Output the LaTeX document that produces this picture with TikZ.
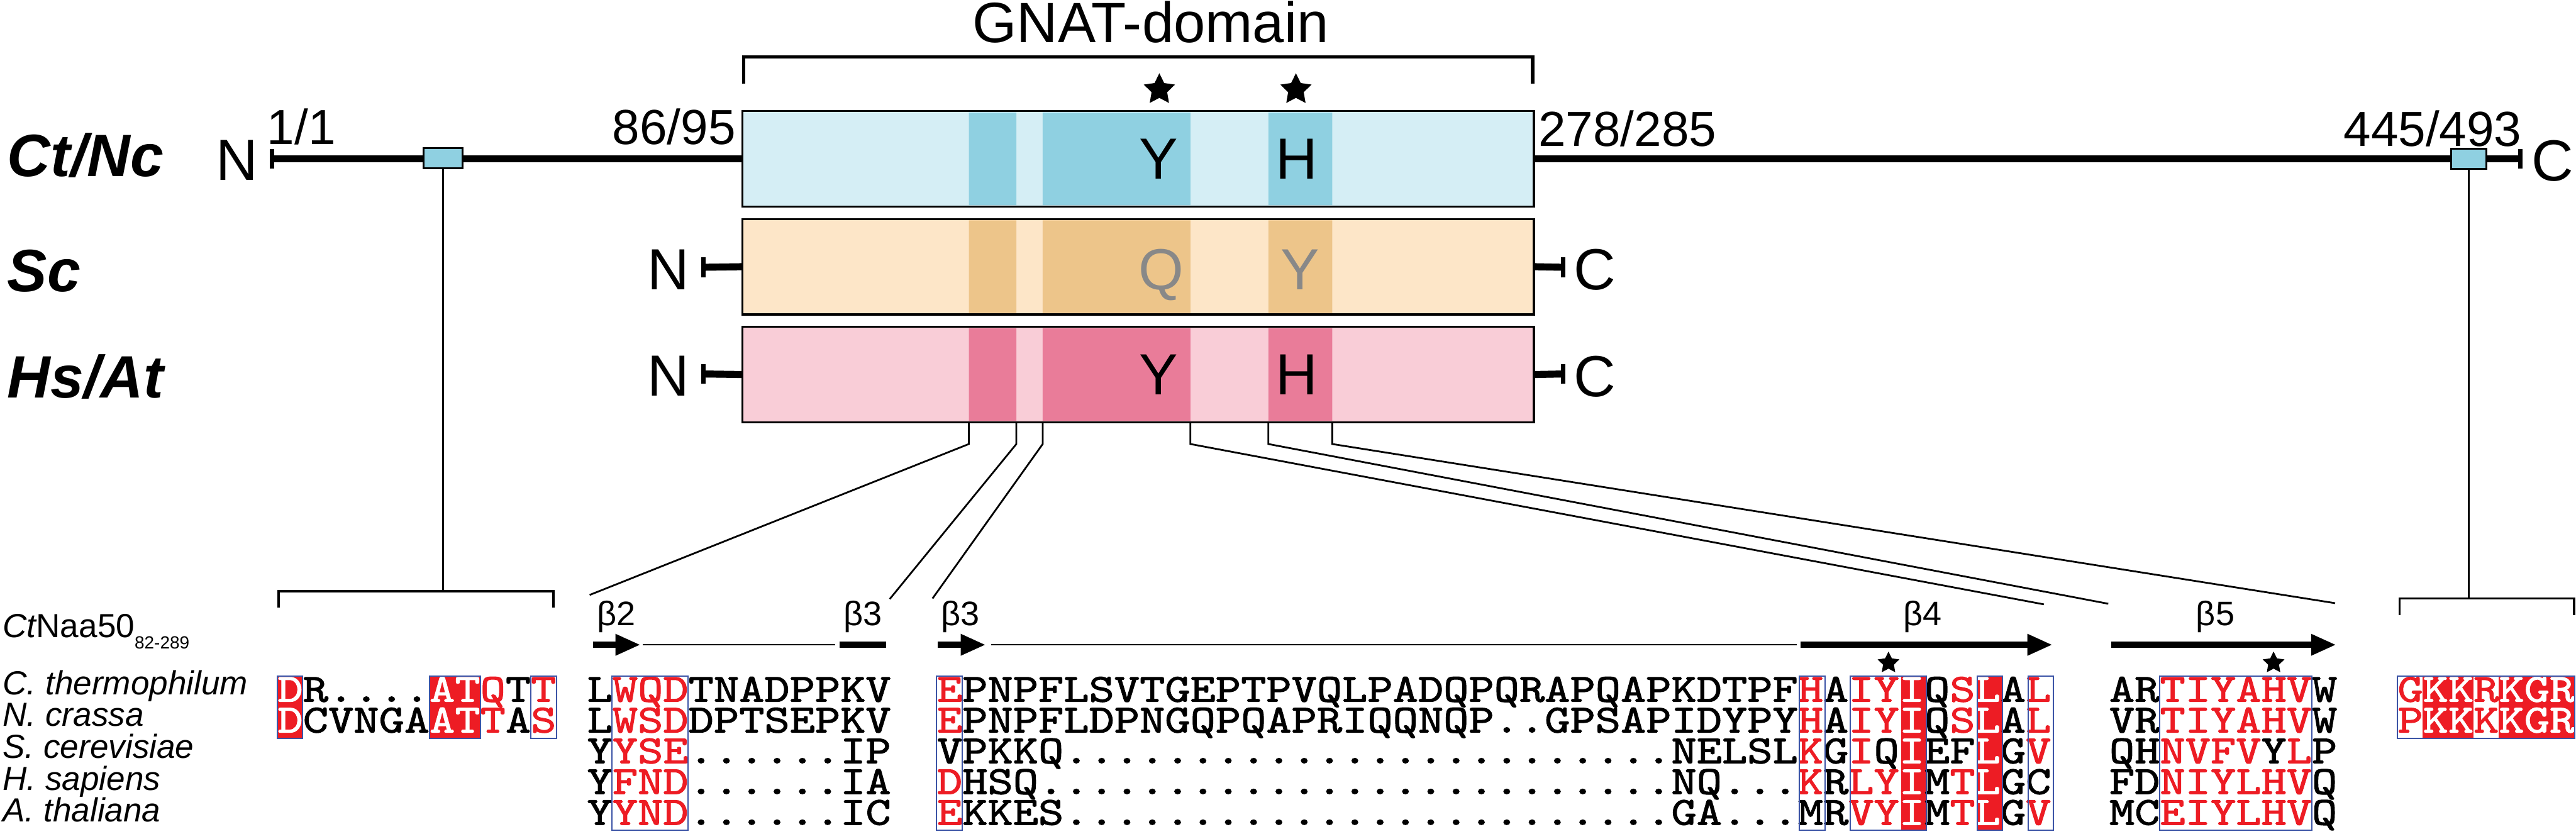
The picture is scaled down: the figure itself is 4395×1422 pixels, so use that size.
\documentclass[tikz,border=0pt]{standalone}
\usepackage{fontspec}
\setmainfont{Liberation Sans}
\newfontfamily\seqfont[FakeStretch=1.21, FakeBold=1.8]{lmmono10-regular.otf}
\usetikzlibrary{shapes.geometric, arrows.meta}

\definecolor{ctlight}{RGB}{213,238,245}
\definecolor{ctdark}{RGB}{143,208,225}
\definecolor{sclight}{RGB}{253,230,200}
\definecolor{scdark}{RGB}{237,197,138}
\definecolor{hslight}{RGB}{249,205,215}
\definecolor{hsdark}{RGB}{233,124,153}
\definecolor{espred}{RGB}{237,28,36}
\definecolor{espblue}{RGB}{60,84,166}
\definecolor{resgray}{RGB}{136,136,136}

\newcommand{\rd}[1]{\textcolor{espred}{#1}}
\newcommand{\rw}[1]{\textcolor{white}{#1}}
\newcommand{\cw}{43.3}

\tikzset{
    domainbox/.style={draw, line width=0.85pt, minimum width=337.5pt, minimum height=40.75pt, inner sep=0},
    smallbox/.style={draw, fill=ctdark, line width=0.7pt, minimum height=8.5pt, inner sep=0},
    termlabel/.style={font=\fontsize{24.75}{26}\selectfont, inner sep=0, anchor=base},
    numlabel/.style={font=\fontsize{21}{22}\selectfont, inner sep=0},
    orglabel/.style={font=\fontsize{25.5}{27}\selectfont\bfseries\itshape, inner sep=0, anchor=base west},
    reslabel/.style={font=\fontsize{24.75}{26}\selectfont, inner sep=0, anchor=base},
    bigstar/.style={star, star points=5, star point ratio=2.0, fill=black, inner sep=0, minimum size=14pt},
    smallstar/.style={star, star points=5, star point ratio=2.0, fill=black, inner sep=0, minimum size=9.75pt},
    species/.style={font=\fontsize{14.25}{15}\selectfont\itshape, inner sep=0, anchor=base west, text height=10.5pt, text depth=1pt},
    seqrow/.style={font=\seqfont\fontsize{17}{17}\selectfont, inner sep=0, anchor=base west, text height=10.5pt, text depth=0pt},
    sslabel/.style={font=\fontsize{14.5}{15}\selectfont, inner sep=0, anchor=base west},
    strand/.style={line width=2.75pt, -{Triangle[width=8.5pt,length=10.75pt]}},
    strandbar/.style={line width=2.75pt},
    coil/.style={line width=0.6pt},
    seqframe/.style={draw=espblue, line width=0.55pt},
    ident/.style={fill=espred},
    zoomline/.style={line width=0.75pt},
    bracketline/.style={line width=1pt},
    thinline/.style={line width=0.65pt},
    tbar/.style={line width=1.75pt},
    stub/.style={line width=3pt}
}

\begin{document}
\begin{tikzpicture}[x=0.25pt, y=-0.25pt]
    \useasboundingbox (0,0) rectangle (4395,1422);

    % GNAT domain header
    \node[font=\fontsize{24.25}{26}\selectfont, inner sep=0, anchor=base] (gnat) at (1963,72) {GNAT-domain};
    \draw[line width=1.5pt] (1269,143) -- (1269,97) -- (2615,97) -- (2615,143);
    \node[bigstar] (ystar) at (1978,153) {};
    \node[bigstar] (hstar) at (2211,153) {};

    % Ct/Nc
    \coordinate (ctN) at (464,271);
    \coordinate (ctC) at (4300,271);
    \node[domainbox, fill=ctlight] (ctbox) at (1942,271) {};
    \fill[ctdark] (1653,192) rectangle (1734,350) (1779,192) rectangle (2031,350) (2164,192) rectangle (2273,350);
    \draw[stub] (ctN) -- (ctbox.west) (ctbox.east) -- (ctC);
    \draw[tbar] (464,254) -- (464,288) (4300,254) -- (4300,288);
    \node[smallbox, minimum width=16.75pt] (nbox) at (756,270) {};
    \node[smallbox, minimum width=15pt] (cbox) at (4212,271) {};
    \node[orglabel] (ctname) at (12,301) {Ct/Nc};
    \node[termlabel] (ctNl) at (404,307) {N};
    \node[termlabel] (ctCl) at (4355,308) {C};
    \node[numlabel, anchor=base west] (n11) at (455,246) {1/1};
    \node[numlabel, anchor=base east] (n86) at (1256,246) {86/95};
    \node[numlabel, anchor=base west] (n278) at (2624,249) {278/285};
    \node[numlabel, anchor=base east] (n445) at (4303,249) {445/493};
    \node[reslabel] (cty) at (1977,305) {Y};
    \node[reslabel] (cth) at (2212,305) {H};

    % Sc
    \node[domainbox, fill=sclight] (scbox) at (1942,455) {};
    \fill[scdark] (1653,376) rectangle (1734,534) (1779,376) rectangle (2031,534) (2164,376) rectangle (2273,534);
    \draw[stub] (1200,456) -- (scbox.west) (scbox.east) -- (2667,456);
    \draw[tbar] (1200,439) -- (1200,473) (2667,439) -- (2667,473);
    \node[orglabel] (scname) at (12,497) {Sc};
    \node[termlabel] (scNl) at (1140,494) {N};
    \node[termlabel] (scCl) at (2721,494) {C};
    \node[reslabel, text=resgray] (scq) at (1981,494) {Q};
    \node[reslabel, text=resgray] (scy) at (2218,494) {Y};

    % Hs/At
    \node[domainbox, fill=hslight] (hsbox) at (1942,639) {};
    \fill[hsdark] (1653,560) rectangle (1734,718) (1779,560) rectangle (2031,718) (2164,560) rectangle (2273,718);
    \draw[stub] (1200,638) -- (hsbox.west) (hsbox.east) -- (2667,638);
    \draw[tbar] (1200,621) -- (1200,655) (2667,621) -- (2667,655);
    \node[orglabel] (hsname) at (12,679) {Hs/At};
    \node[termlabel] (hsNl) at (1140,675) {N};
    \node[termlabel] (hsCl) at (2721,677) {C};
    \node[reslabel] (hsy) at (1977,673) {Y};
    \node[reslabel] (hsh) at (2212,673) {H};

    % zoom lines to the alignment
    \coordinate (nbrk) at (757,1009);
    \coordinate (cbrk) at (4213,1021);
    \draw[thinline] (nbox.south) -- (nbox.south |- nbrk);
    \draw[thinline] (cbox.south) -- (cbox.south |- cbrk);
    \draw[bracketline] (475,1037) -- (475,1009) -- (944,1009) -- (944,1037);
    \draw[bracketline] (4094,1049) -- (4094,1021) -- (4392,1021) -- (4392,1049);
    \coordinate (e1) at (1653,720.5);
    \coordinate (e2) at (1734,720.5);
    \coordinate (e3) at (1779,720.5);
    \coordinate (e4) at (2031,720.5);
    \coordinate (e5) at (2164,720.5);
    \coordinate (e6) at (2273,720.5);
    \coordinate (s1) at (1006,1015);
    \coordinate (s2) at (1518,1022);
    \coordinate (s3) at (1591,1021);
    \coordinate (s4) at (3487,1031);
    \coordinate (s5) at (3597,1030);
    \coordinate (s6) at (3984,1029);
    \foreach \i in {1,...,6}
        \draw[zoomline] (e\i) -- ++(0,37) -- (s\i);

    % secondary structure
    \draw[strand] (1012,1100) -- (1093,1100);
    \draw[coil] (1097,1100) -- (1425,1100);
    \draw[strandbar] (1432,1100) -- (1512,1100);
    \draw[strand] (1600,1100) -- (1682,1100);
    \draw[coil] (1691,1100) -- (3065,1100);
    \draw[strand] (3072,1100) -- (3502,1100);
    \draw[strand] (3602,1100) -- (3986,1100);
    \node[sslabel] (b2) at (1018,1067) {β2};
    \node[sslabel] (b3a) at (1439,1067) {β3};
    \node[sslabel] (b3b) at (1605,1067) {β3};
    \node[sslabel] (b4) at (3247,1067) {β4};
    \node[sslabel] (b5) at (3746,1067) {β5};
    \node[smallstar] (s4star) at (3222,1131) {};
    \node[smallstar] (s5star) at (3879,1131) {};

    % species
    \node[species, font=\fontsize{14.25}{15}\selectfont] (naa) at (4,1088) {{\itshape Ct}Naa50\raisebox{-4.75pt}{\fontsize{7.5}{8}\selectfont 82-289}};
    \node[species] (spct) at (4,1185) {C. thermophilum};
    \node[species] (spnc) at (4,1239) {N. crassa};
    \node[species] (spsc) at (4,1293) {S. cerevisiae};
    \node[species] (sphs) at (4,1348) {H. sapiens};
    \node[species] (spat) at (4,1402) {A. thaliana};

    % identical columns
    \fill[ident] (473,1153) rectangle ({473+\cw},1260) ({473+6*\cw},1153) rectangle ({473+8*\cw},1260);
    \fill[ident] ({1598+38*\cw},1153) rectangle ({1598+39*\cw},1416) ({1598+41*\cw},1153) rectangle ({1598+42*\cw},1416);
    \fill[ident] ({4090+\cw},1153) rectangle ({4090+3*\cw},1260) ({4090+4*\cw},1153) rectangle ({4090+7*\cw},1260);

    % alignment, N-terminal block
    \node[seqrow] (ctA) at (473,1197) {\rw{D}R....\rw{AT}\rd{Q}T\rd{T}};
    \node[seqrow] (ncA) at (473,1249.5) {\rw{D}CVNGA\rw{AT}\rd{T}A\rd{S}};

    % beta2 - beta3
    \node[seqrow] (ctB) at (1001,1197) {L\rd{WQD}TNADPPKV};
    \node[seqrow] (ncB) at (1001,1249.5) {L\rd{WSD}DPTSEPKV};
    \node[seqrow] (scB) at (1001,1302) {Y\rd{YSE}......IP};
    \node[seqrow] (hsB) at (1001,1354.5) {Y\rd{FND}......IA};
    \node[seqrow] (atB) at (1001,1407) {Y\rd{YND}......IC};

    % beta3 - beta4
    \node[seqrow] (ctC) at (1598,1197) {\rd{E}PNPFLSVTGEPTPVQLPADQPQRAPQAPKDTPF\rd{H}A\rd{IY}\rw{I}Q\rd{S}\rw{L}A\rd{L}};
    \node[seqrow] (ncC) at (1598,1249.5) {\rd{E}PNPFLDPNGQPQAPRIQQNQP..GPSAPIDYPY\rd{H}A\rd{IY}\rw{I}Q\rd{S}\rw{L}A\rd{L}};
    \node[seqrow] (scC) at (1598,1302) {VPKKQ........................NELSL\rd{K}G\rd{I}Q\rw{I}EF\rw{L}G\rd{V}};
    \node[seqrow] (hsC) at (1598,1354.5) {\rd{D}HSQ.........................NQ...\rd{K}R\rd{LY}\rw{I}M\rd{T}\rw{L}GC};
    \node[seqrow] (atC) at (1598,1407) {\rd{E}KKES........................GA...MR\rd{VY}\rw{I}M\rd{T}\rw{L}G\rd{V}};

    % beta5
    \node[seqrow] (ctD) at (3598,1197) {AR\rd{TIYAHV}W};
    \node[seqrow] (ncD) at (3598,1249.5) {VR\rd{TIYAHV}W};
    \node[seqrow] (scD) at (3598,1302) {QH\rd{NVFV}Y\rd{L}P};
    \node[seqrow] (hsD) at (3598,1354.5) {FD\rd{NIYLHV}Q};
    \node[seqrow] (atD) at (3598,1407) {MC\rd{EIYLHV}Q};

    % C-terminal block
    \node[seqrow] (ctE) at (4090,1197) {\rd{G}\rw{KK}\rd{R}\rw{KGR}};
    \node[seqrow] (ncE) at (4090,1249.5) {\rd{P}\rw{KK}\rd{K}\rw{KGR}};

    % similarity frames
    \draw[seqframe] (473,1153) rectangle ({473+\cw},1260) ({473+6*\cw},1153) rectangle ({473+8*\cw},1260) ({473+10*\cw},1153) rectangle ({473+11*\cw},1260);
    \draw[seqframe] ({1001+\cw},1153) rectangle ({1001+4*\cw},1416);
    \draw[seqframe] (1598,1153) rectangle ({1598+\cw},1416) ({1598+34*\cw},1153) rectangle ({1598+35*\cw},1416);
    \draw[seqframe] ({1598+36*\cw},1153) rectangle ({1598+39*\cw},1416) ({1598+41*\cw},1153) rectangle ({1598+42*\cw},1416) ({1598+43*\cw},1153) rectangle ({1598+44*\cw},1416);
    \draw[seqframe] ({3598+2*\cw},1153) rectangle ({3598+8*\cw},1416);
    \draw[seqframe] (4090,1153) rectangle ({4090+7*\cw},1260);
\end{tikzpicture}
\end{document}
